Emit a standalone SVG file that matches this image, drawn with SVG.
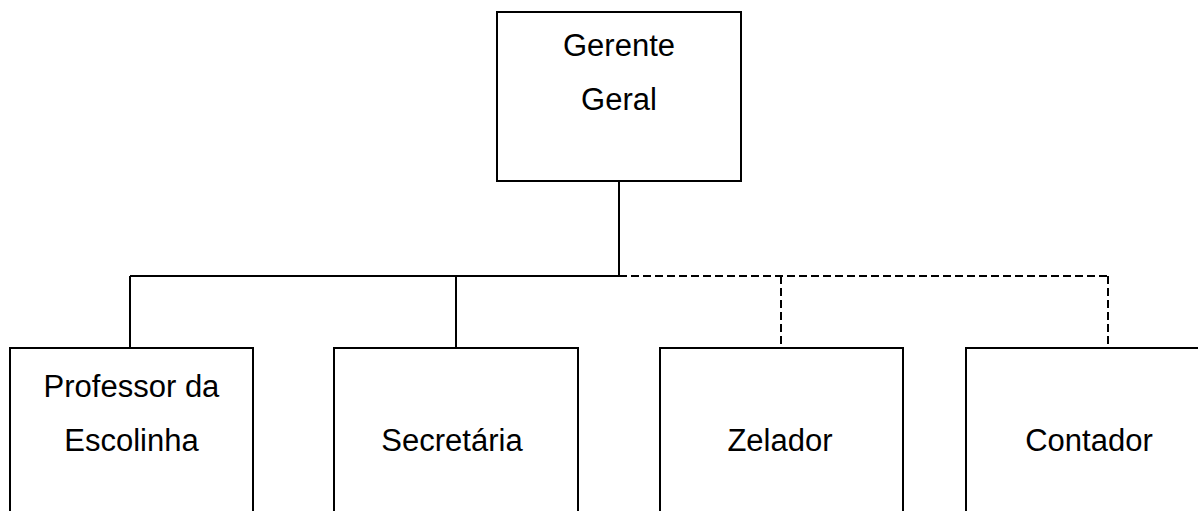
<svg xmlns="http://www.w3.org/2000/svg" width="1198" height="511" viewBox="0 0 1198 511">
<style>
.box{fill:#fff;stroke:#000;stroke-width:2}
.t{font-family:"Liberation Sans",Arial,sans-serif;font-size:31px;fill:#000;text-anchor:middle}
.c{fill:none;stroke:#000;stroke-width:2}
.d{fill:none;stroke:#000;stroke-width:2;stroke-dasharray:8 4}
</style>
<rect width="1198" height="511" fill="#fff"/>
<g id="connectors">
<path class="c" d="M619,181 V276 M130,276 H619 M130,276 V348 M456,276 V348"/>
<path class="d" d="M619,276 H1108 M781,276 V348 M1108,276 V348"/>
</g>
<g id="gerente-geral">
<rect class="box" x="497" y="12" width="244" height="169"/>
<text class="t" x="619" y="56">Gerente</text>
<text class="t" x="619" y="110">Geral</text>
</g>
<g id="professor">
<rect class="box" x="10" y="348" width="243" height="180"/>
<text class="t" x="131.5" y="397">Professor da</text>
<text class="t" x="131.5" y="451">Escolinha</text>
</g>
<g id="secretaria">
<rect class="box" x="334" y="348" width="244" height="180"/>
<text class="t" x="452" y="451">Secretária</text>
</g>
<g id="zelador">
<rect class="box" x="660" y="348" width="243" height="180"/>
<text class="t" x="780" y="451">Zelador</text>
</g>
<g id="contador">
<rect class="box" x="966" y="348" width="246" height="180"/>
<text class="t" x="1089" y="451">Contador</text>
</g>
</svg>
